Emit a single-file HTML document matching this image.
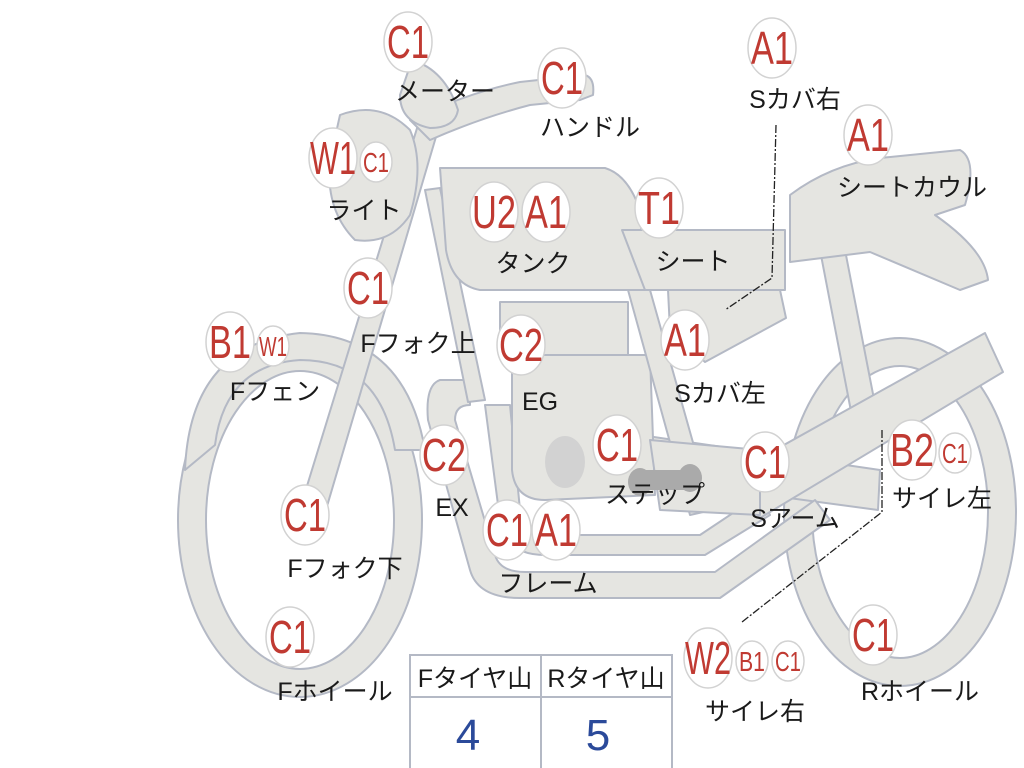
<!DOCTYPE html>
<html><head><meta charset="utf-8"><style>
html,body{margin:0;padding:0;background:#fff;width:1024px;height:768px;overflow:hidden}
svg{display:block}
.r{fill:#c03a32;font-family:"Liberation Sans",sans-serif;text-anchor:middle}
.k{fill:#1a1a1a;font-family:"Liberation Sans","Noto Sans CJK JP",sans-serif;font-size:25px;text-anchor:middle}
.b{fill:#fff;stroke:#d2d2d2;stroke-width:1.5}
</style></head><body>
<svg width="1024" height="768" viewBox="0 0 1024 768" xmlns="http://www.w3.org/2000/svg">
<g fill="#e5e5e1" stroke="#b4b9c5" stroke-width="2" stroke-linejoin="round">
<ellipse cx="300" cy="520" rx="108" ry="163" fill="none" stroke="#b4b9c5" stroke-width="30"/>
<ellipse cx="300" cy="520" rx="108" ry="163" fill="none" stroke="#e5e5e1" stroke-width="26"/>
<ellipse cx="900" cy="512" rx="102" ry="160" fill="none" stroke="#b4b9c5" stroke-width="30"/>
<ellipse cx="900" cy="512" rx="102" ry="160" fill="none" stroke="#e5e5e1" stroke-width="26"/>
<path d="M185,470 Q190,345 300,333 Q405,335 425,450 L395,450 Q380,360 300,360 Q225,365 215,445 Z"/>
<path d="M820,250 L845,250 L880,430 L855,432 Z"/>
<path d="M640,435 L880,470 L878,510 L640,478 Z"/>
<path d="M470,380 L440,380 Q425,385 428,420 L470,570 Q478,598 520,598 L720,598 L830,520 L815,500 L715,572 L525,572 Q500,572 495,555 L455,420 Q455,405 470,405 Z"/>
<path d="M485,405 L510,405 L520,510 Q525,535 550,535 L700,535 L760,495 L770,515 L705,555 L545,555 Q505,555 500,520 Z"/>
<path d="M730,475 L985,333 L1003,372 L760,518 Z"/>
<path d="M500,302 L628,302 L628,355 L500,355 Z"/>
<path d="M512,355 L650,355 L655,495 L545,500 Q515,500 512,470 Z"/>
<path d="M628,290 L650,290 L712,510 L690,515 Z"/>
<path d="M650,440 L760,450 L760,515 L660,510 Z"/>
<path d="M418,125 L438,130 L320,530 L295,525 Z"/>
<path d="M425,190 L440,188 L485,400 L468,402 Z"/>
<path d="M410,120 Q470,92 520,82 L585,75 Q595,78 593,95 L580,100 L530,105 Q480,118 430,140 Z"/>
<path d="M412,60 Q445,70 458,110 Q455,128 430,128 Q400,122 400,95 Z"/>
<path d="M340,115 Q380,100 410,130 Q425,165 410,215 Q390,245 355,240 Q325,210 330,160 Z"/>
<path d="M440,168 L605,168 Q628,175 640,210 L645,290 L480,290 Q452,285 446,250 Z"/>
<path d="M622,230 L785,230 L785,290 L645,290 Z"/>
<path d="M790,195 Q830,165 880,158 L960,150 Q978,160 965,205 L935,215 Q985,250 988,280 L960,290 L870,252 L790,262 Z"/>
<path d="M668,290 L780,290 L786,318 L705,362 L670,330 Z"/>
</g>
<ellipse cx="565" cy="462" rx="20" ry="26" fill="#d2d2d2"/>
<ellipse cx="640" cy="482" rx="12" ry="14" fill="#aaa"/>
<ellipse cx="690" cy="478" rx="12" ry="14" fill="#aaa"/>
<rect x="640" y="470" width="50" height="20" fill="#aaa"/>
<g fill="none" stroke="#222" stroke-width="1.3" stroke-dasharray="8 2 2 2">
<path d="M776,125 L772,278 L725,310"/>
<path d="M882,430 L882,512 L742,622"/>
</g>
<g>
<ellipse class="b" cx="408" cy="42" rx="24" ry="30"/>
<ellipse class="b" cx="562" cy="78" rx="24" ry="30"/>
<ellipse class="b" cx="772" cy="48" rx="24" ry="30"/>
<ellipse class="b" cx="868" cy="135" rx="24" ry="30"/>
<ellipse class="b" cx="333" cy="158" rx="24" ry="30"/>
<ellipse class="b" cx="376" cy="162" rx="16" ry="20"/>
<ellipse class="b" cx="494" cy="212" rx="24" ry="30"/>
<ellipse class="b" cx="546" cy="212" rx="24" ry="30"/>
<ellipse class="b" cx="659" cy="208" rx="24" ry="30"/>
<ellipse class="b" cx="368" cy="288" rx="24" ry="30"/>
<ellipse class="b" cx="230" cy="342" rx="24" ry="30"/>
<ellipse class="b" cx="273" cy="346" rx="16" ry="20"/>
<ellipse class="b" cx="521" cy="345" rx="24" ry="30"/>
<ellipse class="b" cx="685" cy="340" rx="24" ry="30"/>
<ellipse class="b" cx="444" cy="455" rx="24" ry="30"/>
<ellipse class="b" cx="617" cy="445" rx="24" ry="30"/>
<ellipse class="b" cx="765" cy="462" rx="24" ry="30"/>
<ellipse class="b" cx="912" cy="450" rx="24" ry="30"/>
<ellipse class="b" cx="955" cy="453" rx="16" ry="20"/>
<ellipse class="b" cx="305" cy="515" rx="24" ry="30"/>
<ellipse class="b" cx="507" cy="530" rx="24" ry="30"/>
<ellipse class="b" cx="556" cy="530" rx="24" ry="30"/>
<ellipse class="b" cx="290" cy="637" rx="24" ry="30"/>
<ellipse class="b" cx="708" cy="658" rx="24" ry="30"/>
<ellipse class="b" cx="752" cy="661" rx="16" ry="20"/>
<ellipse class="b" cx="788" cy="661" rx="16" ry="20"/>
<ellipse class="b" cx="873" cy="635" rx="24" ry="30"/>
</g>
<g class="r" font-size="46">
<text x="408" y="58" textLength="42" lengthAdjust="spacingAndGlyphs">C1</text>
<text x="562" y="94" textLength="42" lengthAdjust="spacingAndGlyphs">C1</text>
<text x="772" y="64" textLength="42" lengthAdjust="spacingAndGlyphs">A1</text>
<text x="868" y="151" textLength="42" lengthAdjust="spacingAndGlyphs">A1</text>
<text x="333" y="174" textLength="46" lengthAdjust="spacingAndGlyphs">W1</text>
<text x="494" y="228" textLength="44" lengthAdjust="spacingAndGlyphs">U2</text>
<text x="546" y="228" textLength="42" lengthAdjust="spacingAndGlyphs">A1</text>
<text x="659" y="224" textLength="42" lengthAdjust="spacingAndGlyphs">T1</text>
<text x="368" y="304" textLength="42" lengthAdjust="spacingAndGlyphs">C1</text>
<text x="230" y="358" textLength="42" lengthAdjust="spacingAndGlyphs">B1</text>
<text x="521" y="361" textLength="44" lengthAdjust="spacingAndGlyphs">C2</text>
<text x="685" y="356" textLength="42" lengthAdjust="spacingAndGlyphs">A1</text>
<text x="444" y="471" textLength="44" lengthAdjust="spacingAndGlyphs">C2</text>
<text x="617" y="461" textLength="42" lengthAdjust="spacingAndGlyphs">C1</text>
<text x="765" y="478" textLength="42" lengthAdjust="spacingAndGlyphs">C1</text>
<text x="912" y="466" textLength="44" lengthAdjust="spacingAndGlyphs">B2</text>
<text x="305" y="531" textLength="42" lengthAdjust="spacingAndGlyphs">C1</text>
<text x="507" y="546" textLength="42" lengthAdjust="spacingAndGlyphs">C1</text>
<text x="556" y="546" textLength="42" lengthAdjust="spacingAndGlyphs">A1</text>
<text x="290" y="653" textLength="42" lengthAdjust="spacingAndGlyphs">C1</text>
<text x="708" y="674" textLength="46" lengthAdjust="spacingAndGlyphs">W2</text>
<text x="873" y="651" textLength="42" lengthAdjust="spacingAndGlyphs">C1</text>
</g>
<g class="r" font-size="28">
<text x="376" y="172" textLength="26" lengthAdjust="spacingAndGlyphs">C1</text>
<text x="273" y="356" textLength="28" lengthAdjust="spacingAndGlyphs">W1</text>
<text x="955" y="463" textLength="26" lengthAdjust="spacingAndGlyphs">C1</text>
<text x="752" y="671" textLength="26" lengthAdjust="spacingAndGlyphs">B1</text>
<text x="788" y="671" textLength="26" lengthAdjust="spacingAndGlyphs">C1</text>
</g>
<g class="k">
<text x="445" y="100">メーター</text>
<text x="590" y="136">ハンドル</text>
<text x="795" y="108">Sカバ右</text>
<text x="912" y="196">シートカウル</text>
<text x="364" y="219">ライト</text>
<text x="533" y="272">タンク</text>
<text x="693" y="270">シート</text>
<text x="418" y="352">Fフォク上</text>
<text x="275" y="400">Fフェン</text>
<text x="540" y="410">EG</text>
<text x="720" y="402">Sカバ左</text>
<text x="452" y="516">EX</text>
<text x="655" y="503">ステップ</text>
<text x="795" y="527">Sアーム</text>
<text x="942" y="507">サイレ左</text>
<text x="345" y="577">Fフォク下</text>
<text x="548" y="592">フレーム</text>
<text x="335" y="700">Fホイール</text>
<text x="920" y="700">Rホイール</text>
<text x="755" y="720">サイレ右</text>
</g>
<g fill="none" stroke="#b4b9c5" stroke-width="2">
<rect x="410" y="655" width="262" height="118"/>
<line x1="410" y1="697" x2="672" y2="697"/>
<line x1="541" y1="655" x2="541" y2="768"/>
</g>
<g class="k"><text x="475" y="687">Fタイヤ山</text><text x="606" y="687">Rタイヤ山</text></g>
<g font-family="Liberation Sans,sans-serif" font-size="44" fill="#2b4a9a" text-anchor="middle">
<text x="468" y="750">4</text><text x="598" y="750">5</text>
</g>
</svg>
</body></html>
